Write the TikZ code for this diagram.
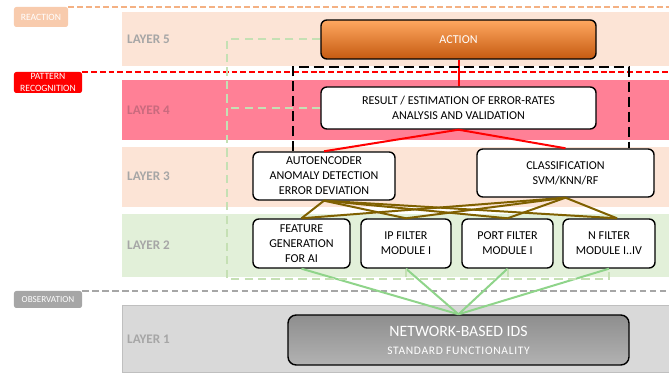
\documentclass[tikz,border=0pt]{standalone}
\usepackage{fontspec}
\setmainfont{Carlito}
\usepackage{xcolor}
\usetikzlibrary{calc}

\definecolor{peach}{HTML}{FCE4D6}
\definecolor{rose}{HTML}{FF8096}
\definecolor{mint}{HTML}{E2F0D9}
\definecolor{silver}{HTML}{D9D9D9}
\definecolor{tagorange}{HTML}{F8CBAD}
\definecolor{lineorange}{HTML}{F4B183}
\definecolor{lyrgray}{HTML}{A6A6A6}
\definecolor{lyrrose}{HTML}{C96A7E}
\definecolor{mud}{HTML}{7F6000}
\definecolor{leaf}{HTML}{8FD48A}
\definecolor{paleleaf}{HTML}{C5E0B4}
\definecolor{actop}{HTML}{FFA860}
\definecolor{acmid}{HTML}{FF8000}
\definecolor{acbot}{HTML}{C55A11}
\definecolor{idstop}{HTML}{8E8E8E}
\definecolor{idsbot}{HTML}{B2B2B2}

\tikzset{
  box/.style={draw, line width=1.2pt, rounded corners=5pt, fill=white, align=center,
    inner sep=0pt, font=\fontsize{10.3}{12.8}\selectfont},
  tag/.style={rounded corners=2pt, text=white, align=center, inner sep=0pt,
    font=\fontsize{8.2}{9.6}\selectfont},
  lyr/.style={anchor=west, inner sep=0pt, font=\fontsize{11.2}{13}\selectfont\bfseries, text=lyrgray},
  link/.style={line width=1.7pt},
  guide/.style={line width=1.7pt, dash pattern=on 7pt off 4.5pt, paleleaf},
}

\begin{document}
\begin{tikzpicture}[x=0.03cm, y=-0.03cm]
\useasboundingbox (0,0) rectangle (669,374);
\coordinate (rim) at (669,0);
% bandas de las capas
\fill[peach] (122,12) rectangle (669,66);
\fill[rose] (122,80) rectangle (669,140);
\fill[peach] (122,147) rectangle (669,207);
\fill[mint] (122,214) rectangle (669,277);
\filldraw[fill=silver, draw=gray!50, line width=0.6pt] (122,305) rectangle (669,372);
\foreach \y/\n in {39/5, 176/3, 245/2, 339/1}
  \node[lyr] (lyr\n) at (127,\y) {LAYER \n};
\node[lyr, text=lyrrose] (lyr4) at (127,110) {LAYER 4};

% etiquetas de fase
\node[tag, fill=tagorange, minimum width=1.62cm, minimum height=0.6cm] (reaction) at (41,17) {REACTION};
\node[tag, fill=red, minimum width=2.04cm, minimum height=0.63cm] (pattern) at (48,82.5) {PATTERN\\RECOGNITION};
\node[tag, fill=lyrgray, minimum width=2.04cm, minimum height=0.51cm,
  font=\fontsize{7.8}{9}\selectfont] (observation) at (48,299.5) {OBSERVATION};
\draw[lineorange, line width=1.6pt, dash pattern=on 5pt off 2.5pt] (reaction.north east) -- (reaction.north east -| rim);
\draw[red, line width=1.9pt, dash pattern=on 5pt off 2.5pt] (pattern.north east) -- (pattern.north east -| rim);
\draw[lyrgray, line width=1.6pt, dash pattern=on 5.5pt off 3pt] (observation.north east) -- (observation.north east -| rim);

% bloques
\node[box, minimum width=8.25cm, minimum height=1.17cm, top color=actop, middle color=acmid,
  bottom color=acbot, text=white] (action) at (458.5,39.5) {ACTION};
\node[box, minimum width=8.25cm, minimum height=1.26cm] (result) at (458.5,108)
  {RESULT / ESTIMATION OF ERROR-RATES\\ANALYSIS AND VALIDATION};
\node[box, minimum width=4.26cm, minimum height=1.44cm] (autoenc) at (324,176)
  {AUTOENCODER\\ANOMALY DETECTION\\ERROR DEVIATION};
\node[box, minimum width=5.31cm, minimum height=1.44cm] (classif) at (565.5,173)
  {CLASSIFICATION\\SVM/KNN/RF};
\foreach \nm/\x/\w/\txt in {feature/301.5/2.91cm/{FEATURE\\GENERATION\\FOR AI},
    ipfilt/406/2.7cm/{IP FILTER\\MODULE I}, portfilt/507.5/2.73cm/{PORT FILTER\\MODULE I},
    nfilt/609/2.76cm/{N FILTER\\MODULE I..IV}}
  \node[box, minimum width=\w, minimum height=1.47cm] (\nm) at (\x,243.5) {\txt};
\node[box, minimum width=10.23cm, minimum height=1.5cm, rounded corners=7pt, top color=idstop,
  bottom color=idsbot, text=white] (nids) at (458.5,340)
  {\fontsize{13.5}{15}\selectfont NETWORK-BASED IDS\\[2.5pt]\fontsize{9.8}{12}\selectfont
   \addfontfeature{LetterSpace=6}STANDARD FUNCTIONALITY};
\coordinate (nfin) at ([xshift=0.24cm]nfilt.north);

% conexiones
\draw[link, red] (action.south) -- (result.north);
\draw[link, red] (autoenc.north) -- (result.south) -- (classif.north);
\foreach \src in {autoenc, classif}
  \foreach \dst in {feature.north, ipfilt.north, portfilt.north, nfin}
    \draw[link, mud] (\src.south) -- (\dst);
\foreach \src in {feature, ipfilt, portfilt, nfilt}
  \draw[link, leaf] (\src.south) -- (nids.north);

% retroalimentacion
\coordinate (gcorner) at (227,279);
\draw[guide] (action.west) -| (gcorner) -| (nfilt.south);
\draw[guide] (result.west) -- (result.west -| gcorner);
\draw[guide] (ipfilt.south) -- (ipfilt.south |- gcorner);
\draw[guide] (portfilt.south) -- (portfilt.south |- gcorner);
\coordinate (bl) at (293,67);
\coordinate (br) at (629,67);
\draw[line width=1.8pt, dash pattern=on 8.5pt off 4.3pt] (autoenc.north -| bl) -- (bl) -- (br) -- (classif.north -| br);
\end{tikzpicture}
\end{document}
